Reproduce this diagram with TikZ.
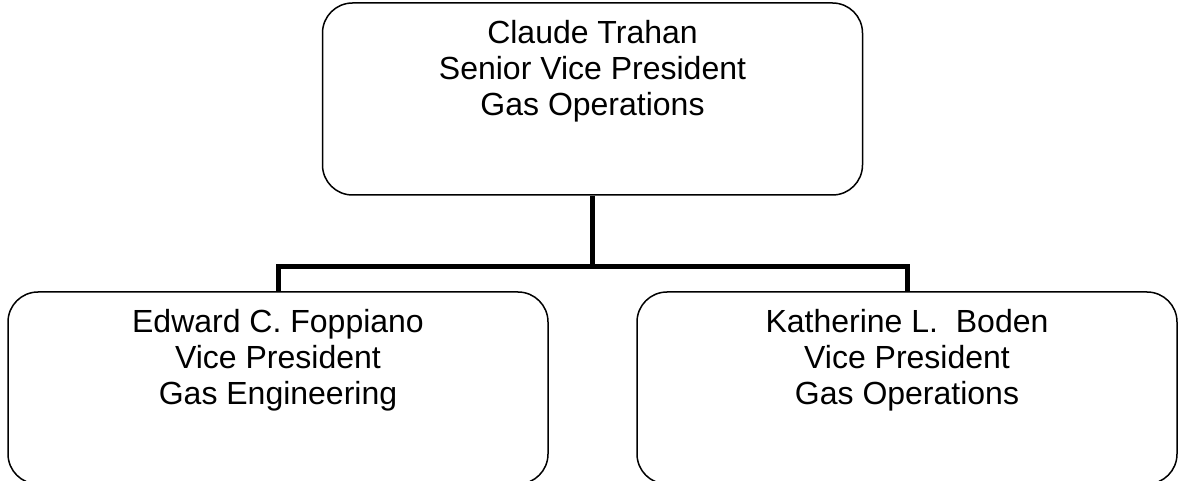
\documentclass[tikz,border=0pt]{standalone}
\usepackage{fontspec}
\setmainfont{Liberation Sans}
\usepackage{tikz}
\usetikzlibrary{positioning}

\begin{document}
\begin{tikzpicture}[x=1pt,y=-1pt,
  box/.style={draw=black,line width=1.5pt,rounded corners=30pt,
              minimum width=540pt,minimum height=192pt,inner sep=0pt},
  lbl/.style={align=center,inner sep=0pt,
              font=\fontsize{32}{36}\selectfont},
  link/.style={line width=5pt}]
  \useasboundingbox (0,0) rectangle (1179,481);
  % boxes
  \node[box] (svp) at (592.5,99) {};
  \node[box] (vpeng) at (278,388) {};
  \node[box] (vpops) at (907,388) {};
  % titles
  \node[lbl,below=17.5pt of svp.north] (svptxt)
       {Claude Trahan\\Senior Vice President\\Gas Operations};
  \node[lbl,below=17.5pt of vpeng.north] (vpengtxt)
       {Edward C. Foppiano\\Vice President\\Gas Engineering};
  \node[lbl,below=17.5pt of vpops.north] (vpopstxt)
       {Katherine L.\ \ Boden\\Vice President\\Gas Operations};
  % reporting lines
  \coordinate (fork) at (592.5,266.5);
  \draw[link] (svp.south) -- (fork);
  \draw[link] (vpeng.north) |- (fork) -| (vpops.north);
\end{tikzpicture}
\end{document}
